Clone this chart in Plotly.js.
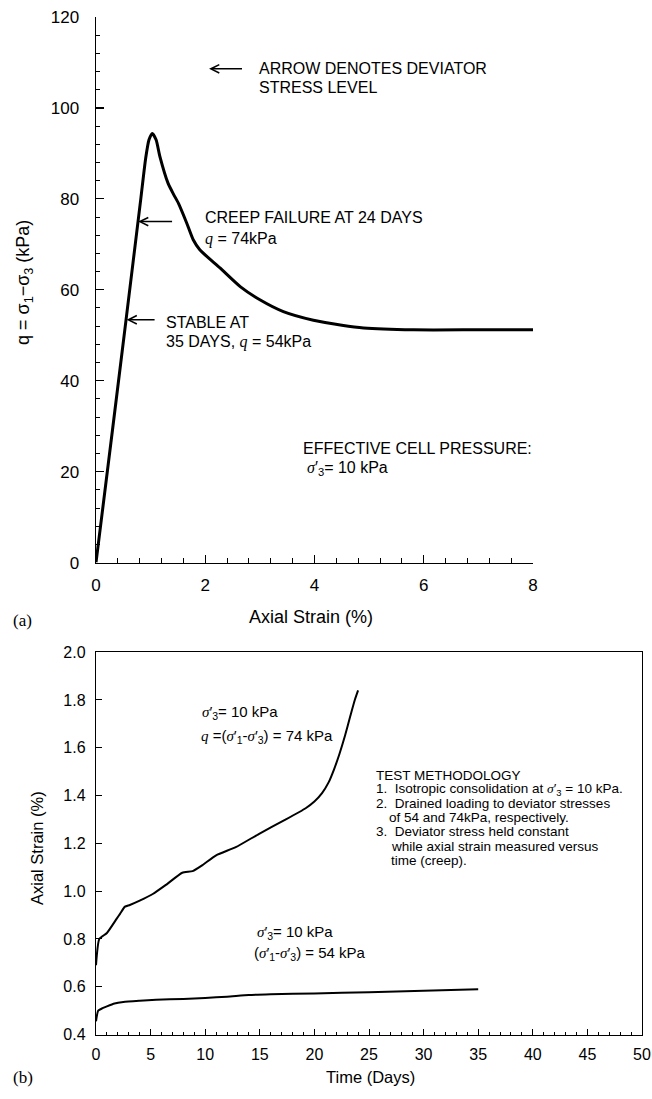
<!DOCTYPE html>
<html>
<head>
<meta charset="utf-8">
<script src="https://cdn.plot.ly/plotly-3.0.1.min.js"></script>
<style>
html,body{margin:0;padding:0;background:#fff;}
#chart{width:652px;height:1099px;}
</style>
</head>
<body>
<div id="chart"></div>
<script>
// (a) Deviator stress vs axial strain
const strainA = [0, 0.30, 0.55, 0.82, 0.91, 0.97, 1.03, 1.10, 1.17, 1.32, 1.42, 1.51, 1.66, 1.78, 1.90, 2.27, 2.64, 3.00, 3.43, 3.98, 4.50, 4.90, 5.81, 7.00, 8.00];
const stressA = [0, 29, 53.4, 80, 89, 93, 94.4, 93, 89.3, 83.4, 81, 79, 74.7, 71, 68.8, 64.8, 60.7, 57.8, 55.2, 53.3, 52.2, 51.6, 51.2, 51.2, 51.2];

// (b) Axial strain vs time (creep)
const timeHigh = [0, 0.3, 1.0, 1.9, 2.2, 2.65, 3.1, 4.0, 5.2, 6.4, 7.9, 8.85, 9.75, 11.0, 12.8, 14.9, 17.3, 19.2, 20.0, 20.7, 21.3, 21.8, 22.3, 22.8, 23.3, 23.7, 24.0];
const strainHigh = [0.69, 0.80, 0.825, 0.885, 0.905, 0.935, 0.942, 0.96, 0.988, 1.026, 1.077, 1.084, 1.109, 1.15, 1.184, 1.239, 1.298, 1.347, 1.375, 1.41, 1.455, 1.51, 1.575, 1.65, 1.735, 1.80, 1.84];
const timeLow = [0, 0.2, 0.6, 1.0, 1.7, 2.5, 4.0, 5.5, 8, 10, 12, 14, 16, 20, 25, 30, 35];
const strainLow = [0.455, 0.50, 0.51, 0.518, 0.53, 0.536, 0.541, 0.545, 0.549, 0.553, 0.558, 0.565, 0.568, 0.572, 0.577, 0.583, 0.589];

const xTicksA = [0, 2, 4, 6, 8];
const yTicksA = [0, 20, 40, 60, 80, 100, 120];
const xTicksB = [0, 5, 10, 15, 20, 25, 30, 35, 40, 45, 50];
const yTicksB = [0.4, 0.6, 0.8, 1.0, 1.2, 1.4, 1.6, 1.8, 2.0];

const W = 652, H = 1099;
const px = x => x / W;
const py = y => 1 - y / H;
const FONT = "Liberation Sans, Arial, sans-serif";
const SERIF = "Liberation Serif, Times New Roman, serif";
const it = s => '<i><span style="font-family:Liberation Serif">' + s + '</span></i>';

const traces = [
  {x: strainA, y: stressA, xaxis: 'x', yaxis: 'y', mode: 'lines', line: {color: '#000', width: 3, shape: 'spline', smoothing: 0.6}, hoverinfo: 'skip'},
  {x: timeHigh, y: strainHigh, xaxis: 'x2', yaxis: 'y2', mode: 'lines', line: {color: '#000', width: 2, shape: 'spline', smoothing: 0.5}, hoverinfo: 'skip'},
  {x: timeLow, y: strainLow, xaxis: 'x2', yaxis: 'y2', mode: 'lines', line: {color: '#000', width: 2, shape: 'spline', smoothing: 0.5}, hoverinfo: 'skip'}
];

const axA = {
  showline: true, linecolor: '#000', linewidth: 1.5, mirror: false,
  ticks: 'inside', ticklen: 8, tickwidth: 1.2, tickcolor: '#000',
  showgrid: false, zeroline: false,
  tickfont: {family: FONT, size: 17, color: '#000'}
};
const axB = {
  showline: true, linecolor: '#000', linewidth: 1.2, mirror: true,
  ticks: 'inside', ticklen: 6, tickwidth: 1, tickcolor: '#000',
  showgrid: false, zeroline: false, ticklabeloverflow: 'allow',
  tickfont: {family: FONT, size: 16, color: '#000'}
};

const layout = {
  width: W, height: H,
  margin: {l: 0, r: 0, t: 0, b: 0},
  paper_bgcolor: '#fff', plot_bgcolor: '#fff',
  showlegend: false,
  xaxis: Object.assign({}, axA, {
    domain: [px(96), px(533)], anchor: 'y', range: [0, 8],
    tickvals: xTicksA, ticktext: xTicksA.map(String), ticklabelstandoff: 6,
    minor: {dtick: 0.4, ticks: 'inside', ticklen: 5, tickwidth: 1, tickcolor: '#000', showgrid: false}
  }),
  yaxis: Object.assign({}, axA, {
    domain: [py(562.6), py(17)], anchor: 'x', range: [0, 120],
    tickvals: yTicksA, ticktext: yTicksA.map(String), ticklabelstandoff: 12,
    minor: {dtick: 4, ticks: 'inside', ticklen: 4, tickwidth: 1, tickcolor: '#000', showgrid: false}
  }),
  xaxis2: Object.assign({}, axB, {
    domain: [px(96), px(642)], anchor: 'y2', range: [0, 50],
    tickvals: xTicksB, ticktext: xTicksB.map(String), ticklabelstandoff: 5,
    minor: {dtick: 1, ticks: 'inside', ticklen: 3, tickwidth: 1, tickcolor: '#000', showgrid: false}
  }),
  yaxis2: Object.assign({}, axB, {
    domain: [py(1034.5), py(652.2)], anchor: 'x2', range: [0.4, 2.0],
    tickvals: yTicksB, ticktext: yTicksB.map(v => v.toFixed(1)), ticklabelstandoff: 6
  }),
  annotations: []
};

const A = layout.annotations;
function txt(x, y, text, opts) {
  A.push(Object.assign({
    x: x, y: y, text: text, showarrow: false, xanchor: 'left', yanchor: 'middle',
    font: {family: FONT, size: 16, color: '#000'}
  }, opts || {}));
}
function arrow(xh, yh, xt, ref) {
  A.push({x: xh, y: yh, ax: xt, ay: yh, xref: ref[0], yref: ref[1], axref: ref[0], ayref: ref[1],
    text: '', showarrow: true, arrowhead: 5, arrowsize: 1.1, arrowwidth: 1.5, arrowcolor: '#000'});
}

// Panel (a) annotations
arrow(2.07, 108.6, 2.70, ['x', 'y']);
txt(2.95, 108.6, 'ARROW DENOTES DEVIATOR', {xref: 'x', yref: 'y'});
txt(2.95, 104.4, 'STRESS LEVEL', {xref: 'x', yref: 'y'});
arrow(0.77, 75.0, 1.42, ['x', 'y']);
txt(1.96, 75.8, 'CREEP FAILURE AT 24 DAYS', {xref: 'x', yref: 'y'});
txt(1.96, 71.2, it('q') + ' = 74kPa', {xref: 'x', yref: 'y'});
arrow(0.56, 53.4, 1.10, ['x', 'y']);
txt(1.245, 52.8, 'STABLE AT', {xref: 'x', yref: 'y'});
txt(1.245, 48.5, '35 DAYS, ' + it('q') + ' = 54kPa', {xref: 'x', yref: 'y'});
txt(3.75, 25.2, 'EFFECTIVE CELL PRESSURE:', {xref: 'x', yref: 'y'});
txt(3.83, 20.8, it('σ') + '′<sub>3</sub>= 10 kPa', {xref: 'x', yref: 'y'});

// Panel (b) annotations
const f14 = {family: FONT, size: 15, color: '#000'};
txt(9.5, 1.746, it('σ') + '′<sub>3</sub>= 10 kPa', {xref: 'x2', yref: 'y2', font: f14});
txt(9.4, 1.647, it('q') + ' =(' + it('σ') + '′<sub>1</sub>-' + it('σ') + '′<sub>3</sub>) = 74 kPa', {xref: 'x2', yref: 'y2', font: f14});
txt(14.6, 0.825, it('σ') + '′<sub>3</sub>= 10 kPa', {xref: 'x2', yref: 'y2', font: f14});
txt(14.3, 0.737, '(' + it('σ') + '′<sub>1</sub>-' + it('σ') + '′<sub>3</sub>) = 54 kPa', {xref: 'x2', yref: 'y2', font: f14});

const f12 = {family: FONT, size: 13.5, color: '#000'};
const methodLines = [
  ['TEST METHODOLOGY', 374],
  ['1.  Isotropic consolidation at ' + it('σ') + '′<sub>3</sub> = 10 kPa.', 374],
  ['2.  Drained loading to deviator stresses', 374],
  ['of 54 and 74kPa, respectively.', 387],
  ['3.  Deviator stress held constant', 374],
  ['while axial strain measured versus', 389],
  ['time (creep).', 389]
];
methodLines.forEach((l, i) => {
  txt(px(l[1]), py(775 + i * 14.2), l[0], {xref: 'paper', yref: 'paper', font: f12});
});

// Axis titles
txt(px(24), py(283), 'q = σ<sub>1</sub>−σ<sub>3</sub> (kPa)', {xref: 'paper', yref: 'paper', xanchor: 'center', textangle: -90, font: {family: FONT, size: 18, color: '#000'}});
txt(px(311), py(617), 'Axial Strain (%)', {xref: 'paper', yref: 'paper', xanchor: 'center', font: {family: FONT, size: 18, color: '#000'}});
txt(px(37), py(848), 'Axial Strain (%)', {xref: 'paper', yref: 'paper', xanchor: 'center', textangle: -90, font: {family: FONT, size: 16.5, color: '#000'}});
txt(px(370), py(1077), 'Time (Days)', {xref: 'paper', yref: 'paper', xanchor: 'center', font: {family: FONT, size: 16.5, color: '#000'}});
txt(px(11), py(620), '(a)', {xref: 'paper', yref: 'paper', font: {family: SERIF, size: 17, color: '#000'}});
txt(px(11), py(1077), '(b)', {xref: 'paper', yref: 'paper', font: {family: SERIF, size: 17, color: '#000'}});

Plotly.newPlot('chart', traces, layout, {staticPlot: true, displayModeBar: false});
</script>
</body>
</html>
